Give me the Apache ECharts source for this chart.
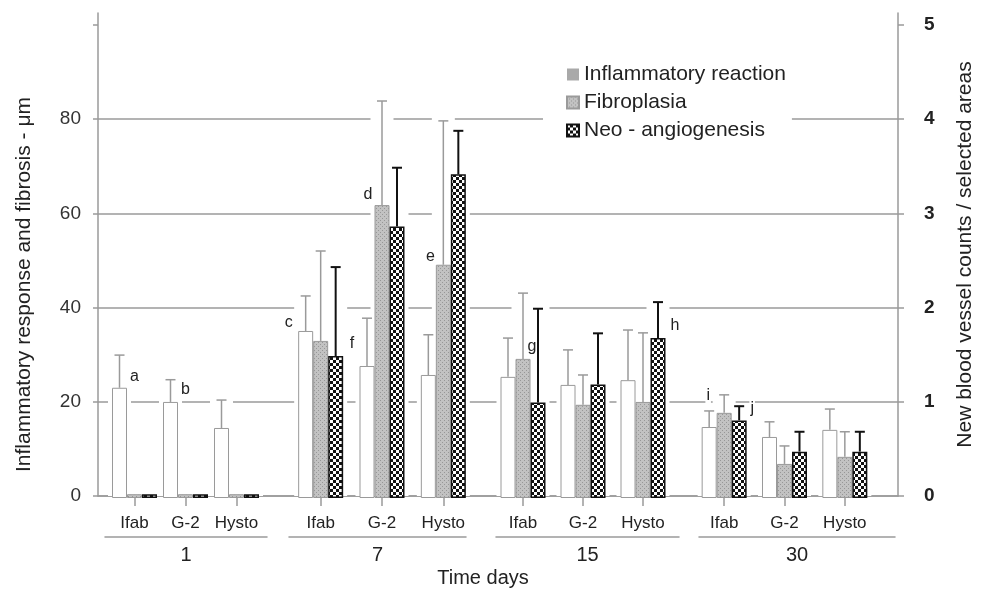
<!DOCTYPE html>
<html>
<head>
<meta charset="utf-8">
<script src="https://cdn.jsdelivr.net/npm/echarts@6/dist/echarts.min.js"></script>
<style>
  html, body { margin: 0; padding: 0; background: #fff; }
  #chart { width: 984px; height: 593px; }
</style>
</head>
<body>
<div id="chart"></div>
<script>
// time points and groups
const days = ['1', '7', '15', '30'];
const groups = ['Ifab', 'G-2', 'Hysto'];

// inflammatory reaction (μm), one row per day
const inflamMean = [[23.3, 20.3, 14.8], [35.3, 27.9, 26.0], [25.6, 23.9, 24.9], [15.0, 12.9, 14.4]];
const inflamSd   = [[6.9, 4.7, 5.9], [7.4, 10.1, 8.5], [8.2, 7.4, 10.6], [3.4, 3.2, 4.4]];
// fibroplasia (μm)
const fibroMean  = [[0.8, 0.8, 0.8], [33.2, 61.9, 49.3], [29.4, 19.7, 20.3], [18.0, 7.2, 8.7]];
const fibroSd    = [[0, 0, 0], [19.0, 22.0, 30.4], [13.9, 6.3, 14.6], [3.8, 3.8, 5.3]];
// neo-angiogenesis (vessel counts, right axis)
const neoMean    = [[0.04, 0.04, 0.04], [1.5, 2.87, 3.42], [1.01, 1.2, 1.69], [0.82, 0.49, 0.49]];
const neoSd      = [[0, 0, 0], [0.94, 0.62, 0.46], [0.99, 0.54, 0.38], [0.15, 0.21, 0.21]];

// axis ticks
const leftTicks = [0, 20, 40, 60, 80, 100];
const rightTicks = [0, 1, 2, 3, 4, 5];

// significance letters: letter, day index, group index, series index
const letters = [
  ['a', 0, 0, 0], ['b', 0, 1, 0], ['c', 1, 0, 0], ['d', 1, 1, 1], ['e', 1, 2, 1],
  ['f', 1, 1, 0], ['g', 2, 0, 1], ['h', 2, 2, 2], ['i', 3, 0, 0], ['j', 3, 0, 2]
];

// --- layout / style ---
const letterOffset = {
  a: [15, 2], b: [15, 1], c: [-17, 5], d: [-14, 2], e: [-13, 5],
  f: [-15, -9], g: [9, 1], h: [17, 1], i: [-1, -18], j: [13, 1]
};
const TOP = 13, BOTTOM = 95;
const LEFT_MAX = 102.5, RIGHT_MAX = 5.125;
const BAR_W = 15;
const GRAY = '#9a9a9a', INK = '#222';
const dayGrids = [[109, 153], [290, 184], [493, 180], [694, 181]];
const lineGrids = [[105, 162], [289, 177], [496, 183], [699, 196]];
const FONT = 'Liberation Sans, Arial, sans-serif';

function makePattern(size, draw) {
  const c = document.createElement('canvas');
  c.width = c.height = size;
  draw(c.getContext('2d'));
  return { image: c, repeat: 'repeat' };
}
const fibroFill = makePattern(4, ctx => {
  ctx.fillStyle = '#c2c2c2'; ctx.fillRect(0, 0, 4, 4);
  ctx.fillStyle = '#979797'; ctx.fillRect(0, 0, 1, 1); ctx.fillRect(2, 2, 1, 1);
});
const neoFill = makePattern(6, ctx => {
  ctx.fillStyle = '#111'; ctx.fillRect(0, 0, 6, 6);
  ctx.fillStyle = '#fff'; ctx.fillRect(0, 0, 3, 3); ctx.fillRect(3, 3, 3, 3);
});

const measures = [
  { name: 'Inflammatory reaction', mean: inflamMean, sd: inflamSd, right: 0,
    style: { color: '#fff', borderColor: GRAY, borderWidth: 1 }, err: GRAY, errW: 1.5 },
  { name: 'Fibroplasia', mean: fibroMean, sd: fibroSd, right: 0,
    style: { color: fibroFill, borderColor: GRAY, borderWidth: 1 }, err: GRAY, errW: 1.5 },
  { name: 'Neo - angiogenesis', mean: neoMean, sd: neoSd, right: 1,
    style: { color: neoFill, borderColor: '#111', borderWidth: 1.5 }, err: '#111', errW: 2 }
];

const chart = echarts.init(document.getElementById('chart'));

const grid = [{ left: 98, right: 86, top: TOP, bottom: BOTTOM }];
const xAxis = [{
  gridIndex: 0, type: 'value', min: 0, max: 1,
  axisLine: { show: true, lineStyle: { color: GRAY, width: 1.5 } },
  axisTick: { show: false }, axisLabel: { show: false }, splitLine: { show: false },
  name: 'Time days', nameLocation: 'middle', nameGap: 72,
  nameTextStyle: { fontFamily: FONT, fontSize: 20, color: INK, padding: [0, 30, 0, 0] }
}];
const yAxis = [{
  gridIndex: 0, type: 'value', min: 0, max: LEFT_MAX, interval: 20,
  axisLine: { show: true, lineStyle: { color: GRAY, width: 1.5 } },
  axisTick: { show: true, length: 5, customValues: leftTicks, lineStyle: { color: GRAY, width: 1.5 } },
  axisLabel: { fontFamily: FONT, fontSize: 19, color: '#333', margin: 17,
    formatter: v => (v <= 80 ? String(v) : '') },
  splitLine: { show: true, showMaxLine: false, lineStyle: { color: GRAY, width: 1.5 } },
  name: 'Inflammatory response and fibrosis - μm', nameLocation: 'middle', nameGap: 63,
  nameTextStyle: { fontFamily: FONT, fontSize: 21, color: INK, padding: [0, 60, 0, 0] }
}, {
  gridIndex: 0, type: 'value', position: 'right', min: 0, max: RIGHT_MAX, interval: 1,
  axisLine: { show: true, lineStyle: { color: GRAY, width: 1.5 } },
  axisTick: { show: true, length: 6, customValues: rightTicks, lineStyle: { color: GRAY, width: 1.5 } },
  axisLabel: { fontFamily: FONT, fontSize: 19, fontWeight: 'bold', color: '#222', margin: 26,
    formatter: v => (Number.isInteger(v) ? String(v) : '') },
  splitLine: { show: false },
  name: 'New blood vessel counts / selected areas', nameLocation: 'middle', nameGap: 57,
  nameRotate: 90,
  nameTextStyle: { fontFamily: FONT, fontSize: 21, color: INK }
}];
const series = [];

days.forEach((day, d) => {
  // bar grid for this day
  grid.push({ left: dayGrids[d][0], width: dayGrids[d][1], top: TOP, bottom: BOTTOM });
  const gi = grid.length - 1;
  xAxis.push({
    gridIndex: gi, type: 'category', data: groups,
    axisLine: { show: false },
    axisTick: { show: true, alignWithLabel: true, length: 8, lineStyle: { color: GRAY, width: 1.5 } },
    axisLabel: { interval: 0, margin: 17, fontFamily: FONT, fontSize: 17, color: INK }
  });
  const xi = xAxis.length - 1;
  yAxis.push({ gridIndex: gi, type: 'value', show: false, min: 0, max: LEFT_MAX });
  yAxis.push({ gridIndex: gi, type: 'value', show: false, min: 0, max: RIGHT_MAX });
  const yiL = yAxis.length - 2;

  measures.forEach((m, k) => {
    const offset = (k - 1) * BAR_W;
    const yi = yiL + m.right;
    series.push({
      name: m.name, type: 'bar', xAxisIndex: xi, yAxisIndex: yi,
      barWidth: BAR_W, barGap: '0%', z: 2,
      itemStyle: m.style,
      data: m.mean[d].map((v, g) => {
        const hit = letters.find(l => l[1] === d && l[2] === g && l[3] === k);
        if (!hit) return v;
        return {
          value: v,
          label: {
            show: true, position: 'top', formatter: hit[0], offset: letterOffset[hit[0]],
            fontFamily: FONT, fontSize: 16, color: INK, backgroundColor: '#fff', padding: [0, 1]
          }
        };
      })
    });
    const errData = m.mean[d].map((v, g) => [g, v, v + m.sd[d][g]]);
    // white gaps in the grid lines behind each bar
    series.push({
      type: 'custom', xAxisIndex: xi, yAxisIndex: yi, z: 1, silent: true,
      data: errData,
      renderItem: (params, api) => {
        const base = api.coord([api.value(0), 0]);
        const top = api.coord([api.value(0), api.value(2)]);
        const x = base[0] + offset;
        return {
          type: 'rect',
          shape: { x: x - BAR_W / 2 - 4, y: top[1] - 3, width: BAR_W + 8, height: base[1] - 2 - (top[1] - 3) },
          style: { fill: '#fff' }
        };
      }
    });
    // error bars (upper only)
    series.push({
      type: 'custom', xAxisIndex: xi, yAxisIndex: yi, z: 3, silent: true,
      data: errData,
      renderItem: (params, api) => {
        if (api.value(2) <= api.value(1)) return null;
        const b = api.coord([api.value(0), api.value(1)]);
        const t = api.coord([api.value(0), api.value(2)]);
        const x = b[0] + offset;
        const st = { stroke: m.err, lineWidth: m.errW };
        return {
          type: 'group', children: [
            { type: 'line', shape: { x1: x, y1: b[1], x2: x, y2: t[1] }, style: st },
            { type: 'line', shape: { x1: x - 5, y1: t[1], x2: x + 5, y2: t[1] }, style: st }
          ]
        };
      }
    });
  });
});

// underline + day label under each day's group
days.forEach((day, d) => {
  grid.push({ left: lineGrids[d][0], width: lineGrids[d][1], top: TOP, bottom: 56 });
  const gi = grid.length - 1;
  xAxis.push({
    gridIndex: gi, type: 'category', data: [day],
    axisLine: { show: true, lineStyle: { color: GRAY, width: 1.5 } },
    axisTick: { show: false }, axisLabel: { show: false },
    name: day, nameLocation: 'middle', nameGap: 8,
    nameTextStyle: { fontFamily: FONT, fontSize: 20, color: INK }
  });
  yAxis.push({ gridIndex: gi, type: 'value', show: false });
});

chart.setOption({
  animation: false,
  backgroundColor: '#fff',
  legend: {
    left: 543, top: 58, orient: 'vertical',
    padding: [6, 6, 6, 23], itemGap: 7, itemWidth: 12, itemHeight: 12, itemTextGap: 12,
    backgroundColor: '#fff', icon: 'rect',
    textStyle: { fontFamily: FONT, fontSize: 21, color: INK },
    data: [
      { name: 'Inflammatory reaction', itemStyle: { color: '#a9a9a9', borderWidth: 0 } },
      { name: 'Fibroplasia' },
      { name: 'Neo - angiogenesis' }
    ]
  },
  grid, xAxis, yAxis, series
});
</script>
</body>
</html>
